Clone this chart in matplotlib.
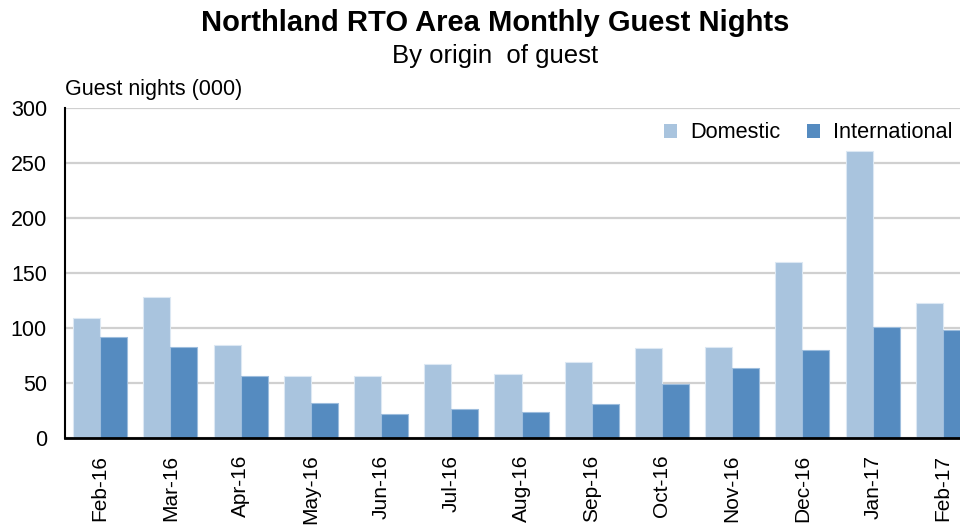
import matplotlib
matplotlib.use("Agg")
import matplotlib.pyplot as plt
import numpy as np
from matplotlib.patches import Patch

plt.rcParams['font.family'] = ['Liberation Sans', 'DejaVu Sans']

months = ["Feb-16", "Mar-16", "Apr-16", "May-16", "Jun-16", "Jul-16", "Aug-16",
          "Sep-16", "Oct-16", "Nov-16", "Dec-16", "Jan-17", "Feb-17"]
domestic = [109, 128, 85, 56, 56, 67, 58, 69, 82, 83, 160, 261, 123]
international = [92, 83, 56, 32, 22, 26, 24, 31, 49, 64, 80, 101, 98]

c_dom = "#A9C4DE"
c_int = "#558BC0"

fig = plt.figure(figsize=(9.6, 5.28), dpi=100)
ax = fig.add_axes([65/960, 90/528, 913/960, 330/528])

x = np.arange(len(months))
w = 0.385
ax.bar(x - w/2, domestic, width=w, color=c_dom, edgecolor="#DCE8F3", linewidth=0.8, zorder=3, label="Domestic")
ax.bar(x + w/2, international, width=w, color=c_int, edgecolor="#9DBDDD", linewidth=0.8, zorder=3, label="International")

ax.set_xlim(-0.5, len(months) - 0.5)
ax.set_ylim(0, 300)
ax.set_yticks([0, 50, 100, 150, 200, 250, 300])
ax.yaxis.grid(True, color="#D0D0D0", linewidth=1.6, zorder=0)
ax.set_axisbelow(True)
ax.set_xticks(x)
ax.set_xticklabels(months, rotation=90, fontsize=15)
ax.tick_params(axis='y', length=0, pad=13, labelsize=15.5)
ax.tick_params(axis='x', length=0, pad=12)
for s in ["top", "right"]:
    ax.spines[s].set_visible(False)
ax.spines["left"].set_linewidth(1.5)
ax.spines["bottom"].set_linewidth(2)
ax.spines["bottom"].set_zorder(4)

fig.text(495/960, 1 - 23/528, "Northland RTO Area Monthly Guest Nights", ha="center", va="center",
         fontsize=21, fontweight="bold")
fig.text(495/960, 1 - 56/528, "By origin  of guest", ha="center", va="center", fontsize=18.5)
fig.text(65/960, 1 - 90/528, "Guest nights (000)", ha="left", va="center", fontsize=15.5)

handles = [Patch(facecolor=c_dom, edgecolor="none"), Patch(facecolor=c_int, edgecolor="none")]
fig.legend(handles, ["Domestic", "International"], loc="center right",
           bbox_to_anchor=(972/960, 1 - 133/528), ncol=2, frameon=False, fontsize=15.7,
           handlelength=0.6, handleheight=0.6, handletextpad=0.6, columnspacing=1.2)

fig.savefig("out.png", dpi=100)
